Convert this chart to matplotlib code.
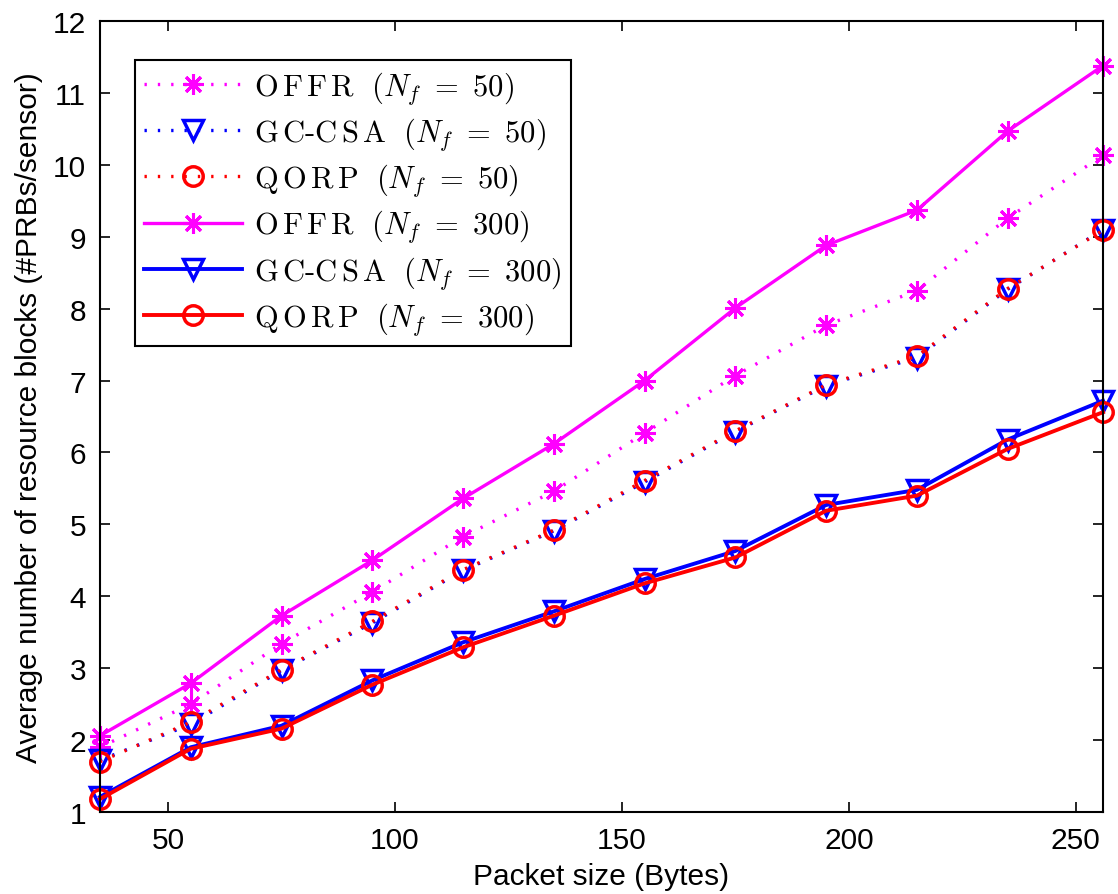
import matplotlib
matplotlib.use("Agg")
import matplotlib.pyplot as plt
import numpy as np

plt.rcParams['font.family'] = ['Liberation Sans', 'DejaVu Sans']
plt.rcParams['mathtext.fontset'] = 'cm'

# tamaño de paquete (Bytes)
paquete = [35, 55, 75, 95, 115, 135, 155, 175, 195, 215, 235, 256]

# N_f = 50
offr_50 = [1.90, 2.50, 3.34, 4.06, 4.83, 5.46, 6.27, 7.07, 7.77, 8.25, 9.26, 10.13]
gccsa_50 = [1.72, 2.22, 2.97, 3.63, 4.36, 4.91, 5.59, 6.29, 6.93, 7.32, 8.27, 9.10]
qorp_50 = [1.70, 2.25, 2.98, 3.65, 4.37, 4.92, 5.61, 6.30, 6.94, 7.34, 8.28, 9.09]

# N_f = 300
offr_300 = [2.06, 2.79, 3.73, 4.50, 5.36, 6.12, 7.00, 8.01, 8.88, 9.37, 10.47, 11.38]
gccsa_300 = [1.21, 1.90, 2.20, 2.83, 3.36, 3.79, 4.24, 4.63, 5.27, 5.48, 6.18, 6.72]
qorp_300 = [1.18, 1.88, 2.16, 2.77, 3.29, 3.73, 4.18, 4.54, 5.19, 5.40, 6.05, 6.56]

etiquetas = [r'$\mathrm{O\,F\,F\,R}\ \ (N_f\ =\ 50)$',
             r'$\mathrm{G\,C\text{-}C\,S\,A}\ \ (N_f\ =\ 50)$',
             r'$\mathrm{Q\,O\,R\,P}\ \ (N_f\ =\ 50)$',
             r'$\mathrm{O\,F\,F\,R}\ \ (N_f\ =\ 300)$',
             r'$\mathrm{G\,C\text{-}C\,S\,A}\ \ (N_f\ =\ 300)$',
             r'$\mathrm{Q\,O\,R\,P}\ \ (N_f\ =\ 300)$']

fig = plt.figure(figsize=(11.18, 8.95), dpi=100)
ax = fig.add_axes([0.0894, 0.0916, 0.8972, 0.8838])

asterisco = (8, 2, 0)
mag, azul, rojo = (1, 0, 1), (0, 0, 1), (1, 0, 0)
punteado = (0, (0.7, 3.3))

ax.plot(paquete, offr_50, ls=punteado, color=mag, lw=2.4, marker=asterisco, ms=15,
        mew=2.2, clip_on=False, label=etiquetas[0])
ax.plot(paquete, gccsa_50, ls=punteado, color=azul, lw=2.4, marker='v', ms=14,
        mew=2.5, mfc='none', clip_on=False, label=etiquetas[1])
ax.plot(paquete, qorp_50, ls=punteado, color=rojo, lw=2.4, marker='o', ms=14,
        mew=2.5, mfc='none', clip_on=False, label=etiquetas[2])
ax.plot(paquete, offr_300, '-', color=mag, lw=2.4, marker=asterisco, ms=15, mew=2.2,
        clip_on=False, label=etiquetas[3])
ax.plot(paquete, gccsa_300, '-', color=azul, lw=2.8, marker='v', ms=14, mew=2.5,
        mfc='none', clip_on=False, label=etiquetas[4])
ax.plot(paquete, qorp_300, '-', color=rojo, lw=2.8, marker='o', ms=14, mew=2.5,
        mfc='none', clip_on=False, label=etiquetas[5])

ax.set_xlim(35, 256)
ax.set_ylim(1, 12)
ax.set_xticks([50, 100, 150, 200, 250])
ax.set_yticks(range(1, 13))
ax.tick_params(direction='in', top=True, right=True, length=7, width=1.2,
               labelsize=21.5, pad=10)
for s in ax.spines.values():
    s.set_linewidth(1.5)

ax.set_xlabel('Packet size (Bytes)', fontsize=21.5, labelpad=6)
ax.set_ylabel('Average number of resource blocks (#PRBs/sensor)', fontsize=21.5,
              labelpad=7)

leg = ax.legend(loc='upper left', bbox_to_anchor=(0.035, 0.951), borderaxespad=0,
                fontsize=22, handlelength=3.2, fancybox=False, framealpha=1,
                edgecolor='black', borderpad=0.3, labelspacing=0.3,
                handletextpad=0.4)
leg.get_frame().set_linewidth(1.5)

fig.savefig('out.png', dpi=100)
